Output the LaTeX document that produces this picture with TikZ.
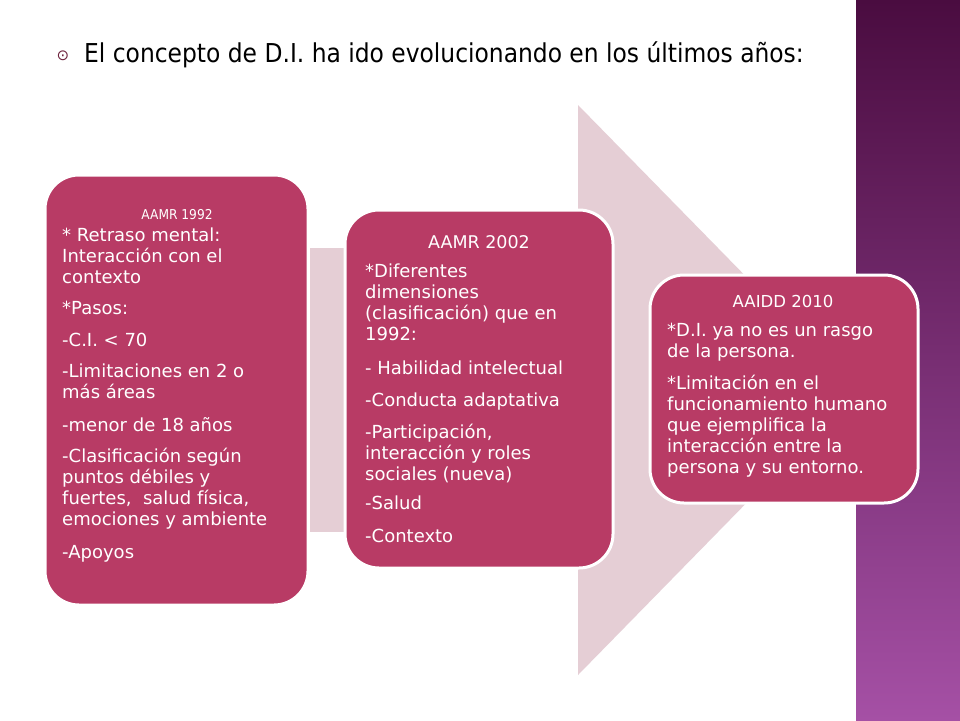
\documentclass[tikz,border=0pt]{standalone}
\usepackage{fontspec}
\setmainfont{DejaVu Sans}
\newfontfamily\headfont{DejaVu Sans Condensed}
\begin{document}
\begin{tikzpicture}[x=1pt,y=-1pt,
  box/.style={fill=boxc,draw=white,line width=3pt,rounded corners=34pt},
  txt/.style={text=white,font=\fontsize{18}{21}\selectfont,align=left,anchor=north west,inner sep=0pt},
  hd/.style={text=white,anchor=base,inner sep=0pt}]
\definecolor{boxc}{RGB}{184,59,101}
\definecolor{arrc}{RGB}{229,206,213}
\definecolor{topp}{RGB}{74,12,64}
\definecolor{botp}{RGB}{165,80,165}
\useasboundingbox (0,0) rectangle (960,720);
\fill[white] (0,0) rectangle (960,720);
\shade[top color=topp,bottom color=botp] (856,0) rectangle (960,720);
% title
\node[anchor=base,inner sep=0pt,text=boxc!60!black] (bul) at (63,60) {\fontsize{15}{15}\selectfont ⊙};
\node[anchor=base west,inner sep=0pt,font=\headfont\fontsize{26}{28}\selectfont] (title) at (84,62) {El concepto de D.I. ha ido evolucionando en los últimos años:};
% arrow
\fill[arrc] (310,248) rectangle (580,532);
\fill[arrc] (578,105) -- (857,390) -- (578,675) -- cycle;
% boxes
\path[box] (45,175) rectangle (308,605);
\path[box] (345,210) rectangle (613,568);
\path[box] (650,275) rectangle (918,503);
% box 1
\node[hd,font=\headfont\fontsize{13.6}{15}\selectfont] (h1) at (177,219) {AAMR 1992};
\node[txt] (t1) at (62,228) {* Retraso mental:\\ Interacción con el\\ contexto\\[10pt]
*Pasos:\\[11pt]
-C.I. < 70\\[10pt]
-Limitaciones en 2 o\\ más áreas\\[12pt]
-menor de 18 años\\[10pt]
-Clasificación según\\ puntos débiles y\\ fuertes,\ \ salud física,\\ emociones y ambiente\\[12pt]
-Apoyos};
% box 2
\node[hd,font=\fontsize{17.5}{20}\selectfont] (h2) at (479,248) {AAMR 2002};
\node[txt] (t2) at (365,264) {*Diferentes\\ dimensiones\\ (clasificación) que en\\ 1992:\\[13pt]
- Habilidad intelectual\\[11pt]
-Conducta adaptativa\\[11pt]
-Participación,\\ interacción y roles\\ sociales (nueva)\\[8pt]
-Salud\\[12pt]
-Contexto};
% box 3
\node[hd,font=\fontsize{16.5}{18}\selectfont] (h3) at (783,307) {AAIDD 2010};
\node[txt] (t3) at (667,323) {*D.I. ya no es un rasgo\\ de la persona.\\[11pt]
*Limitación en el\\ funcionamiento humano\\ que ejemplifica la\\ interacción entre la\\ persona y su entorno.};
\end{tikzpicture}
\end{document}
